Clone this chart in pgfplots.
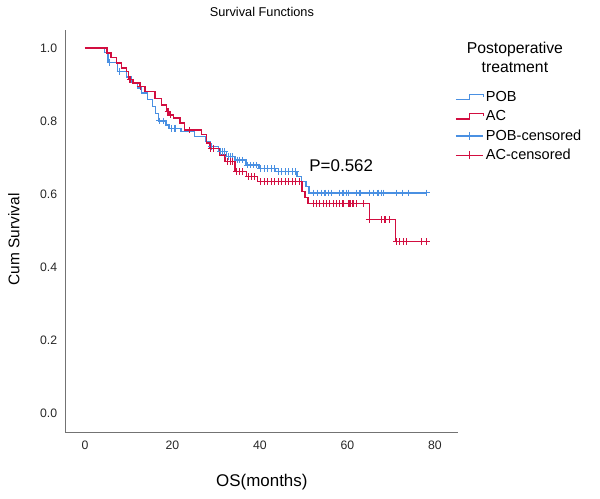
\documentclass[border=0pt]{standalone}
\usepackage{pgfplots}
\pgfplotsset{compat=1.18}
\usepackage{fontspec}
\setmainfont{Liberation Sans}
\definecolor{pobblue}{RGB}{74,144,226}
\definecolor{acred}{RGB}{210,14,64}

\begin{document}
\begin{tikzpicture}
\path[use as bounding box] (0,0) rectangle (600bp,499bp);
\begin{axis}[
  at={(65.7bp,66.3bp)}, anchor=south west,
  scale only axis, width=392.3bp, height=402.7bp,
  xmin=-4.4, xmax=85.3, ymin=-0.054, ymax=1.049,
  axis x line*=bottom, axis y line*=left,
  axis line style={black!55, line width=0.7pt},
  xtick={0,20,40,60,80}, ytick={0,0.2,0.4,0.6,0.8,1.0},
  major tick length=0pt,
  /pgf/number format/assume math mode=true,
  yticklabel style={/pgf/number format/fixed, /pgf/number format/fixed zerofill, /pgf/number format/precision=1, xshift=-5bp},
  xticklabel style={yshift=-5bp},
  tick label style={font=\fontsize{12.3}{14}\selectfont, text=black!85},
  xlabel={OS(months)}, ylabel={Cum Survival},
  xlabel style={at={(axis description cs:0.5,-0.122)}, anchor=center, font=\fontsize{17}{19}\selectfont},
  ylabel style={at={(axis description cs:-0.132,0.48)}, anchor=center, font=\fontsize{15.5}{18}\selectfont},
  legend style={draw=none, fill=none, inner sep=0pt, at={(axis description cs:0.992,0.853)}, anchor=north west,
    font=\fontsize{14.6}{16.5}\selectfont, row sep=3.6pt, cells={anchor=west}},
  clip=false,
]
% POB step curve
\addplot[color=pobblue, line width=1.4pt, const plot,
  legend image code/.code={\draw[color=pobblue, line width=1.4pt] (0cm,-0.09cm) -- (0.48cm,-0.09cm) -- (0.48cm,0.1cm) -- (0.97cm,0.1cm) -- (0.97cm,0cm);}]
coordinates {
(0,1.0) (4.5,0.988) (5.3,0.96) (7.5,0.936) (9.5,0.92) (10.5,0.905) (12,0.89)
(13,0.876) (14.3,0.858) (15.5,0.84) (16.2,0.821) (16.8,0.80) (18.5,0.789)
(19.2,0.78) (22,0.771) (25,0.757) (27.5,0.743) (28.6,0.73) (30.5,0.716)
(32.4,0.702) (34.3,0.693) (36.8,0.679) (39.8,0.67) (43.6,0.661) (48.5,0.647)
(49.5,0.634) (50.5,0.62) (51.2,0.603) (78.2,0.603)
};
\addlegendentry{POB}
% AC step curve
\addplot[color=acred, line width=1.4pt, const plot,
  legend image code/.code={\draw[color=acred, line width=1.4pt] (0cm,-0.09cm) -- (0.48cm,-0.09cm) -- (0.48cm,0.1cm) -- (0.97cm,0.1cm) -- (0.97cm,0cm);}]
coordinates {
(0,1.0) (5,0.986) (6,0.973) (7.2,0.959) (8.4,0.945) (9.5,0.936) (9.9,0.913)
(11,0.904) (12.6,0.895) (13.7,0.88) (16,0.862) (17.5,0.844) (18.7,0.825)
(19.4,0.816) (20.2,0.808) (21.7,0.794) (22.8,0.775) (26.7,0.762) (27.8,0.739)
(28.6,0.725) (30.9,0.707) (32,0.688) (34.3,0.661) (37,0.648) (39.5,0.634)
(49.6,0.606) (50.3,0.59) (51,0.574) (65,0.53) (71,0.469) (78.4,0.469)
};
\addlegendentry{AC}
% POB censored
\addplot[color=pobblue, only marks, mark=+, mark size=3.3bp, line width=1.1pt,
  legend image code/.code={\draw[color=pobblue, line width=1.4pt] (0cm,0cm) -- (0.97cm,0cm); \draw[color=pobblue, line width=1.4pt] (0.48cm,-0.14cm) -- (0.48cm,0.14cm);}]
coordinates {
(5.7,0.96) (8,0.936) (17.1,0.80) (17.9,0.80) (19.8,0.78) (20.6,0.78) (29,0.73)
(31,0.716) (31.5,0.716) (32,0.716) (32.8,0.702) (33.3,0.702) (33.8,0.702)
(34.8,0.693) (35.4,0.693) (36,0.693) (37.2,0.679) (37.8,0.679) (38.5,0.679) (39.2,0.679)
(40.2,0.67) (41,0.67) (41.8,0.67) (42.6,0.67) (43.3,0.67)
(44.2,0.661) (45,0.661) (45.8,0.661) (46.6,0.661) (47.4,0.661) (48.2,0.661)
(52.3,0.603) (53.2,0.603) (54.1,0.603) (54.9,0.603) (55.6,0.603) (56.4,0.603)
(58.3,0.603) (59.0,0.603) (59.8,0.603) (60.2,0.603) (62.1,0.603) (62.9,0.603)
(65.1,0.603) (65.9,0.603) (67.0,0.603) (67.8,0.603) (68.2,0.603)
(71.2,0.603) (72.7,0.603) (73.9,0.603) (78.1,0.603)
};
\addlegendentry{POB-censored}
% AC censored
\addplot[color=acred, only marks, mark=+, mark size=3.3bp, line width=1.1pt,
  legend image code/.code={\draw[color=acred, line width=1.4pt] (0cm,0cm) -- (0.97cm,0cm); \draw[color=acred, line width=1.4pt] (0.48cm,-0.14cm) -- (0.48cm,0.14cm);}]
coordinates {
(10.3,0.913) (12.6,0.895) (19,0.825) (19.6,0.816) (24,0.775) (28.8,0.725) (29.3,0.725)
(32.5,0.688) (33.2,0.688) (33.8,0.688) (34.7,0.661) (35.4,0.661) (36,0.661)
(37.4,0.648) (38.1,0.648) (38.8,0.648)
(40.2,0.634) (41,0.634) (41.8,0.634) (42.6,0.634) (43.4,0.634) (44.2,0.634)
(45,0.634) (45.8,0.634) (46.6,0.634) (47.4,0.634) (48.2,0.634) (49,0.634)
(52.2,0.574) (53,0.574) (53.7,0.574) (54.5,0.574) (55.2,0.574) (56,0.574)
(56.8,0.574) (57.5,0.574) (58.3,0.574) (59,0.574) (60.2,0.574) (60.6,0.574)
(61.3,0.574) (62.1,0.574) (63.6,0.574)
(65,0.53) (67.8,0.53) (68.6,0.53) (69.7,0.53)
(71.2,0.469) (72,0.469) (72.8,0.469) (73.5,0.469) (77,0.469) (78.1,0.469)
};
\addlegendentry{AC-censored}
\node[font=\fontsize{17}{19}\selectfont] at (axis cs:58.6,0.677) {P=0.562};
\node[font=\fontsize{12.8}{15}\selectfont] at (axis description cs:0.5,1.045) {Survival Functions};
\node[align=center, font=\fontsize{15.8}{19}\selectfont] at (axis description cs:1.145,0.933) {Postoperative\\treatment};
\end{axis}
\end{tikzpicture}
\end{document}
